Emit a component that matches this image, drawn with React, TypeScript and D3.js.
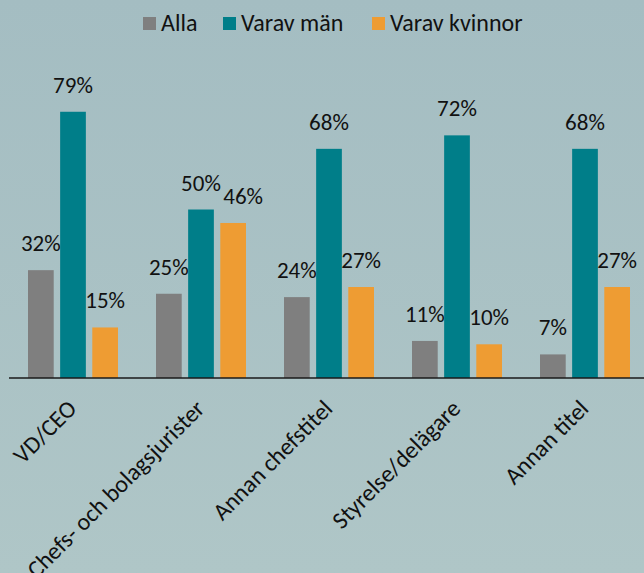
import React from "react";
import * as d3 from "d3";

const categories = ["VD/CEO", "Chefs- och bolagsjurister", "Annan chefstitel", "Styrelse/delägare", "Annan titel"];
const seriesNames = ["Alla", "Varav män", "Varav kvinnor"];
const alla = [32, 25, 24, 11, 7];
const man = [79, 50, 68, 72, 68];
const kvinnor = [15, 46, 27, 10, 27];
const colors = ["#7f7f7f", "#007e89", "#ee9c33"];

const W = 644;
const H = 573;
const FONT = "Carlito, Lato, sans-serif";

export default function App() {
  const series = [alla, man, kvinnor];
  const x = d3.scaleBand<string>().domain(categories).range([9, 649]).padding(0);
  const inner = d3.scaleBand<number>().domain([0, 1, 2]).range([19, 109]).paddingInner(0.2);
  const y = d3.scaleLinear().domain([0, 100]).range([378, 41]);
  const legendX = [143, 223, 372];

  return (
    <svg width={W} height={H} style={{ position: "absolute", left: 0, top: 0, display: "block" }}>
      <defs>
        <linearGradient id="bg" x1="0" y1="0" x2="0" y2="1">
          <stop offset="0" stopColor="#a4bdc2" />
          <stop offset="1" stopColor="#afc6c7" />
        </linearGradient>
      </defs>
      <rect x={0} y={0} width={W} height={H} fill="url(#bg)" />

      {seriesNames.map((n, i) => {
        const lx = legendX[i];
        return (
          <g key={n}>
            <rect x={lx} y={17} width={13} height={13} fill={colors[i]} />
            <text x={lx + 18} y={30.5} fontFamily={FONT} fontSize={24} fill="#111">{n}</text>
          </g>
        );
      })}

      {categories.map((c, ci) => (
        <g key={c} transform={`translate(${x(c)},0)`}>
          {series.map((s, si) => {
            const bx = inner(si)!;
            const bw = inner.bandwidth();
            const prev = si > 0 ? series[si - 1][ci] : null;
            const dx = prev !== null && Math.abs(y(prev) - y(s[ci])) < 20 ? 10 : 0;
            return (
              <g key={si}>
                <rect x={bx} y={y(s[ci])} width={bw} height={y(0) - y(s[ci])} fill={colors[si]} />
                <text
                  x={bx + bw / 2 + dx}
                  y={y(s[ci]) - 19}
                  textAnchor="middle"
                  fontFamily={FONT}
                  fontSize={23}
                  fill="#111"
                >
                  {s[ci]}%
                </text>
              </g>
            );
          })}
          <text
            transform={`translate(${x.bandwidth() / 2 + 5},${410}) rotate(-45)`}
            textAnchor="end"
            fontFamily={FONT}
            fontSize={24}
            fill="#111"
          >
            {c}
          </text>
        </g>
      ))}

      <line x1={9} x2={W} y1={378} y2={378} stroke="#1a1a1a" strokeWidth={1.5} />
    </svg>
  );
}
